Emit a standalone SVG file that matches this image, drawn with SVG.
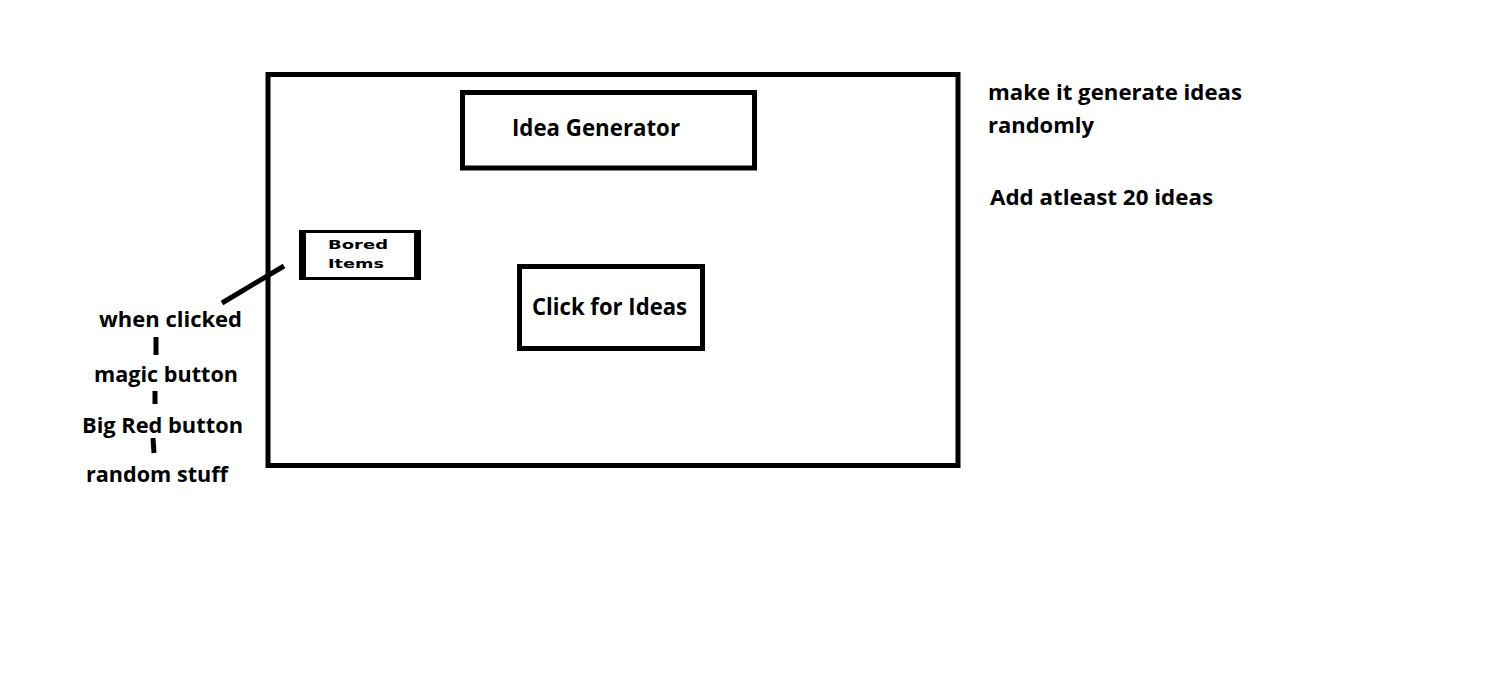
<svg xmlns="http://www.w3.org/2000/svg" width="1492" height="681" viewBox="0 0 1492 681">
<style>
.box{fill:none;stroke:#000;stroke-width:5}
.t{font-family:"Open Sans","Liberation Sans",sans-serif;font-weight:bold;fill:#000;font-size:21px}
.tb{font-family:"Open Sans","Liberation Sans",sans-serif;font-weight:bold;fill:#000;font-size:23px}
.ts{font-family:"DejaVu Sans","Liberation Sans",sans-serif;font-weight:bold;fill:#000;font-size:13px}
.c{stroke:#000;stroke-width:5;fill:none;stroke-linecap:butt}
</style>
<rect width="1492" height="681" fill="#fff"/>
<g id="frame"><rect class="box" x="268" y="74.5" width="690" height="391"/></g>
<g id="idea-generator"><rect class="box" x="462.5" y="92.5" width="292" height="75.5"/>
<text class="tb" x="512" y="136" textLength="168" lengthAdjust="spacingAndGlyphs">Idea Generator</text></g>
<g id="click-for-ideas"><rect class="box" x="519.5" y="266.5" width="183" height="82"/>
<text class="tb" x="532" y="315" textLength="155" lengthAdjust="spacingAndGlyphs">Click for Ideas</text></g>
<g id="bored-items"><rect x="300.5" y="231.5" width="119" height="47" fill="none" stroke="#000" stroke-width="3"/>
<line x1="302.5" y1="230" x2="302.5" y2="280" stroke="#000" stroke-width="7"/>
<line x1="417.5" y1="230" x2="417.5" y2="280" stroke="#000" stroke-width="7"/>
<text class="ts" x="328" y="249" textLength="60" lengthAdjust="spacingAndGlyphs">Bored</text>
<text class="ts" x="328" y="268" textLength="56" lengthAdjust="spacingAndGlyphs">Items</text></g>
<g id="when-clicked"><text class="t" x="99" y="327" textLength="143" lengthAdjust="spacingAndGlyphs">when clicked</text></g>
<g id="magic-button"><text class="t" x="94" y="382" textLength="144" lengthAdjust="spacingAndGlyphs">magic button</text></g>
<g id="big-red-button"><text class="t" x="82" y="433" textLength="161" lengthAdjust="spacingAndGlyphs">Big Red button</text></g>
<g id="random-stuff"><text class="t" x="86" y="482" textLength="142" lengthAdjust="spacingAndGlyphs">random stuff</text></g>
<g id="note-random"><text class="t" x="988" y="100" textLength="254" lengthAdjust="spacingAndGlyphs">make it generate ideas</text>
<text class="t" x="988" y="133" textLength="106" lengthAdjust="spacingAndGlyphs">randomly</text></g>
<g id="note-count"><text class="t" x="990" y="205" textLength="223" lengthAdjust="spacingAndGlyphs">Add atleast 20 ideas</text></g>
<g id="connectors">
<line class="c" x1="222" y1="303" x2="284" y2="266"/>
<line class="c" x1="156" y1="337" x2="156" y2="355"/>
<line class="c" x1="155" y1="391" x2="155" y2="404"/>
<line class="c" x1="153" y1="438" x2="154" y2="453"/>
</g>
</svg>
